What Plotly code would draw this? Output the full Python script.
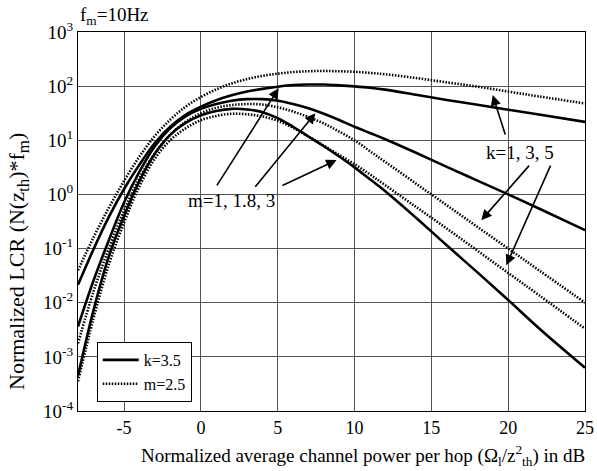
import plotly.graph_objects as go

# x grid (dB)
x_db = [-8, -7, -6, -5, -4, -3, -2, -1, 0, 1, 2, 3, 4, 5, 6, 7, 8, 9, 10, 11, 12, 14, 16, 18, 20, 22, 25]

# log10 of normalized LCR
# solid: k=3.5, m = 1, 1.8, 3
log_s_m1 = [-1.67, -1.02, -0.42, 0.10, 0.55, 0.95, 1.25, 1.47, 1.62, 1.74, 1.83, 1.90, 1.95, 1.99, 2.02, 2.03, 2.03, 2.015, 1.995, 1.97, 1.935, 1.84, 1.745, 1.655, 1.565, 1.475, 1.34]
log_s_m18 = [-2.44, -1.60, -0.85, -0.15, 0.42, 0.89, 1.22, 1.44, 1.58, 1.67, 1.73, 1.76, 1.76, 1.73, 1.67, 1.59, 1.49, 1.375, 1.25, 1.135, 1.02, 0.77, 0.51, 0.255, 0.0, -0.26, -0.66]
log_s_m3 = [-3.35, -2.15, -1.15, -0.40, 0.25, 0.75, 1.10, 1.32, 1.46, 1.54, 1.58, 1.57, 1.52, 1.41, 1.25, 1.07, 0.89, 0.70, 0.50, 0.28, 0.06, -0.43, -0.94, -1.44, -1.95, -2.47, -3.20]
# dotted: m=2.5, k = 1, 3, 5
log_d_k1 = [-1.40, -0.80, -0.25, 0.25, 0.70, 1.08, 1.38, 1.62, 1.80, 1.94, 2.05, 2.13, 2.19, 2.23, 2.26, 2.275, 2.28, 2.275, 2.265, 2.245, 2.22, 2.15, 2.07, 1.99, 1.90, 1.81, 1.68]
log_d_k3 = [-2.75, -1.80, -1.00, -0.30, 0.30, 0.76, 1.10, 1.34, 1.50, 1.60, 1.65, 1.67, 1.66, 1.61, 1.53, 1.43, 1.31, 1.16, 1.00, 0.80, 0.60, 0.20, -0.20, -0.60, -1.00, -1.40, -2.00]
log_d_k5 = [-3.45, -2.30, -1.30, -0.52, 0.15, 0.66, 1.00, 1.22, 1.37, 1.45, 1.49, 1.48, 1.44, 1.36, 1.23, 1.07, 0.90, 0.73, 0.56, 0.37, 0.17, -0.23, -0.63, -1.04, -1.45, -1.86, -2.48]

x_tickvals = [-5, 0, 5, 10, 15, 20, 25]
x_ticktext = ["-5", "0", "5", "10", "15", "20", "25"]
y_exponents = [-4, -3, -2, -1, 0, 1, 2, 3]

FONT = "Liberation Serif, Times New Roman, serif"

def vals(logs):
    return [10 ** v for v in logs]

fig = go.Figure()
solid = dict(color="black", width=2.6)
dotted = dict(color="black", width=2.6, dash="1.5px,1.5px")

for i, ys in enumerate([log_s_m1, log_s_m18, log_s_m3]):
    fig.add_trace(go.Scatter(x=x_db, y=vals(ys), mode="lines", line=solid, line_shape="spline",
                             name="k=3.5", showlegend=(i == 0), legendgroup="s"))
for i, ys in enumerate([log_d_k1, log_d_k3, log_d_k5]):
    fig.add_trace(go.Scatter(x=x_db, y=vals(ys), mode="lines", line=dotted, line_shape="spline",
                             name="m=2.5", showlegend=(i == 0), legendgroup="d"))

# arrows: (tip x, tip log y, tail x, tail log y)
arrows = [
    (5.06, 1.96, 0.98, 0.14),
    (7.45, 1.50, 3.46, 0.116),
    (8.83, 0.634, 5.21, 0.153),
    (18.99, 1.835, 19.84, 1.078),
    (18.25, -0.475, 21.45, 0.56),
    (19.88, -1.307, 22.8, 0.56),
]
for tx, ty, ax_, ay_ in arrows:
    fig.add_annotation(x=tx, y=ty, ax=ax_, ay=ay_, xref="x", yref="y", axref="x", ayref="y",
                       text="", showarrow=True, arrowhead=2, arrowsize=1.3, arrowwidth=1.6,
                       arrowcolor="black", standoff=0, startstandoff=0)

fig.add_annotation(x=1.98, y=-0.11, xref="x", yref="y", text="m=1, 1.8, 3", showarrow=False,
                   font=dict(family=FONT, size=19, color="black"))
fig.add_annotation(x=20.75, y=0.78, xref="x", yref="y", text="k=1, 3, 5", showarrow=False,
                   font=dict(family=FONT, size=19, color="black"))
fig.add_annotation(x=0, y=1, xref="paper", yref="paper", xanchor="left", yanchor="bottom",
                   text="f<sub>m</sub>=10Hz", showarrow=False, yshift=2,
                   font=dict(family=FONT, size=19, color="black"))
# axis titles (plot area spans x 78..585 px, y 32..411 px)
fig.add_annotation(x=(363 - 78) / 507, y=(411 - 455) / 379, xref="paper", yref="paper",
                   xanchor="center", yanchor="middle",
                   text="Normalized average channel power per hop (Ω<sub>l</sub>/z<sup>2</sup><sub>th</sub>) in dB",
                   showarrow=False, font=dict(family=FONT, size=19, color="black"))
fig.add_annotation(x=(18 - 78) / 507, y=(411 - 262) / 379, xref="paper", yref="paper",
                   xanchor="center", yanchor="middle", textangle=-90,
                   text="Normalized LCR (N(z<sub><span style='font-size:17px'>th</span></sub>)*f<sub><span style='font-size:17px'>m</span></sub>)",
                   showarrow=False, font=dict(family=FONT, size=22, color="black"))

grid = "#555555"
fig.update_xaxes(range=[-8, 25], tickvals=x_tickvals, ticktext=x_ticktext, showgrid=True,
                 gridcolor=grid, gridwidth=1, showline=True, linecolor="black", linewidth=1.2,
                 mirror=True, ticks="", zeroline=False, automargin=False,
                 tickfont=dict(family=FONT, size=18, color="black"))
fig.update_yaxes(type="log", range=[-4, 3], tickvals=[10 ** e for e in y_exponents],
                 ticktext=["10<sup>%d</sup>" % e for e in y_exponents], showgrid=True,
                 gridcolor=grid, gridwidth=1, showline=True, linecolor="black", linewidth=1.2,
                 mirror=True, ticks="", zeroline=False, automargin=False,
                 tickfont=dict(family=FONT, size=19, color="black"))

fig.update_layout(width=597, height=471, plot_bgcolor="white", paper_bgcolor="white",
                  margin=dict(l=78, r=12, t=32, b=60, autoexpand=False),
                  legend=dict(x=0.037, y=0.182, xanchor="left", yanchor="top",
                              bordercolor="black", borderwidth=1, bgcolor="white",
                              font=dict(family=FONT, size=16, color="black"),
                              tracegroupgap=0, itemwidth=36))
fig.write_html("out.html", config={"displayModeBar": False},
               post_script="document.body.style.margin='0';document.body.style.overflow='hidden';")
